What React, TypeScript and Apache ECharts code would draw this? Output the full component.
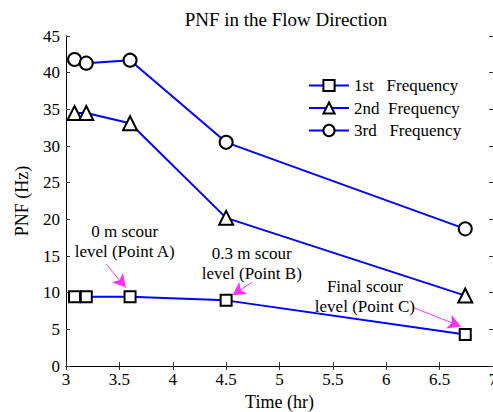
import React, { useEffect, useRef } from "react";
import * as echarts from "echarts";

const times = [3.08, 3.19, 3.6, 4.5, 6.74];
const freq1 = [9.45, 9.45, 9.45, 8.95, 4.3];
const freq2 = [34.5, 34.5, 33.1, 20.2, 9.6];
const freq3 = [41.8, 41.3, 41.7, 30.5, 18.7];
const seriesNames = ["1st   Frequency", "2nd  Frequency", "3rd   Frequency"];
const symbols = ["rect", "triangle", "circle"];

// annotation texts (data coords of first-line centre) and arrows (from -> to, data coords)
const noteLines = [
  ["0 m scour", "level (Point A)"],
  ["0.3 m scour", "level (Point B)"],
  ["Final scour", "level (Point C)"],
];
const noteAnchors = [
  [3.55, 18.3],
  [4.74, 15.4],
  [5.8, 10.9],
];
const arrowFrom = [
  [3.375, 13.9],
  [4.74, 11.4],
  [6.265, 7.9],
];
const arrowTo = [
  [3.56, 10.7],
  [4.56, 9.65],
  [6.7, 5.4],
];

const FONT = "Liberation Serif";

export default function App() {
  const ref = useRef<HTMLDivElement>(null);
  useEffect(() => {
    const chart = echarts.init(ref.current!, null, { renderer: "svg" });
    const dataSets = [freq1, freq2, freq3];
    const series: any[] = dataSets.map((d, i) => ({
      name: seriesNames[i],
      type: "line",
      data: d.map((v, j) => [times[j], v]),
      symbol: symbols[i],
      symbolSize: i === 0 ? 11 : i === 1 ? 14 : 13,
      showAllSymbol: true,
      lineStyle: { color: "#0000ff", width: 2 },
      itemStyle: { color: "#ffffff", borderColor: "#000000", borderWidth: 2 },
      emphasis: { disabled: true },
      z: 3,
    }));
    series.push({
      type: "line",
      data: [],
      markLine: {
        silent: true,
        symbol: ["none", "arrow"],
        symbolSize: [11, 13],
        lineStyle: { color: "#ff33ff", width: 1, type: "solid" },
        label: { show: false },
        data: arrowFrom.map((f, i) => [{ coord: f }, { coord: arrowTo[i] }]),
      },
    });
    const axisCommon = {
      axisLine: { show: true, lineStyle: { color: "#000", width: 1 } },
      axisTick: { show: true, inside: true, length: 4, lineStyle: { color: "#333" } },
      splitLine: { show: false },
    };
    chart.setOption({
      animation: false,
      backgroundColor: "#ffffff",
      textStyle: { fontFamily: FONT },
      title: {
        text: "PNF in the Flow Direction",
        left: 281,
        textAlign: "center",
        top: 5,
        textStyle: { fontFamily: FONT, fontSize: 19, fontWeight: "normal", color: "#000" },
      },
      legend: {
        orient: "vertical",
        left: 303,
        top: 72,
        itemWidth: 40,
        itemHeight: 14,
        itemGap: 5.5,
        data: seriesNames,
        textStyle: { fontFamily: FONT, fontSize: 17, color: "#000" },
        selectedMode: false,
      },
      grid: { left: 66, right: 0, top: 36, bottom: 46, outerBoundsMode: "none", containLabel: false },
      xAxis: [
        {
          type: "value",
          min: 3,
          max: 7,
          interval: 0.5,
          name: "Time (hr)",
          nameLocation: "middle",
          nameGap: 25,
          nameTextStyle: { fontFamily: FONT, fontSize: 18, color: "#000" },
          axisLabel: { fontFamily: FONT, fontSize: 17, color: "#000", margin: 5 },
          ...axisCommon,
        },
        {
          type: "value",
          position: "top",
          min: 3,
          max: 7,
          interval: 0.5,
          axisLabel: { show: false },
          ...axisCommon,
        },
      ],
      yAxis: [
        {
          type: "value",
          min: 0,
          max: 45,
          interval: 5,
          name: "PNF (Hz)",
          nameLocation: "middle",
          nameGap: 35,
          nameTextStyle: { fontFamily: FONT, fontSize: 18, color: "#000" },
          axisLabel: { fontFamily: FONT, fontSize: 17, color: "#000", margin: 6 },
          ...axisCommon,
        },
        {
          type: "value",
          position: "right",
          min: 0,
          max: 45,
          interval: 5,
          axisLabel: { show: false },
          ...axisCommon,
        },
      ],
      series,
    });
    const graphics: any[] = [];
    noteAnchors.forEach((a, i) => {
      const p = chart.convertToPixel({ gridIndex: 0 }, a) as number[];
      graphics.push({
        type: "text",
        x: p[0],
        y: p[1] - 10,
        style: {
          text: noteLines[i].join("\n"),
          fontFamily: FONT,
          fontSize: 17,
          lineHeight: 20,
          fill: "#000",
          align: "center",
          verticalAlign: "top",
        },
        silent: true,
      });
    });
    chart.setOption({ graphic: graphics });
    return () => chart.dispose();
  }, []);
  return (
    <div
      ref={ref}
      style={{ position: "fixed", left: 0, top: 0, width: 493, height: 412 }}
    />
  );
}
